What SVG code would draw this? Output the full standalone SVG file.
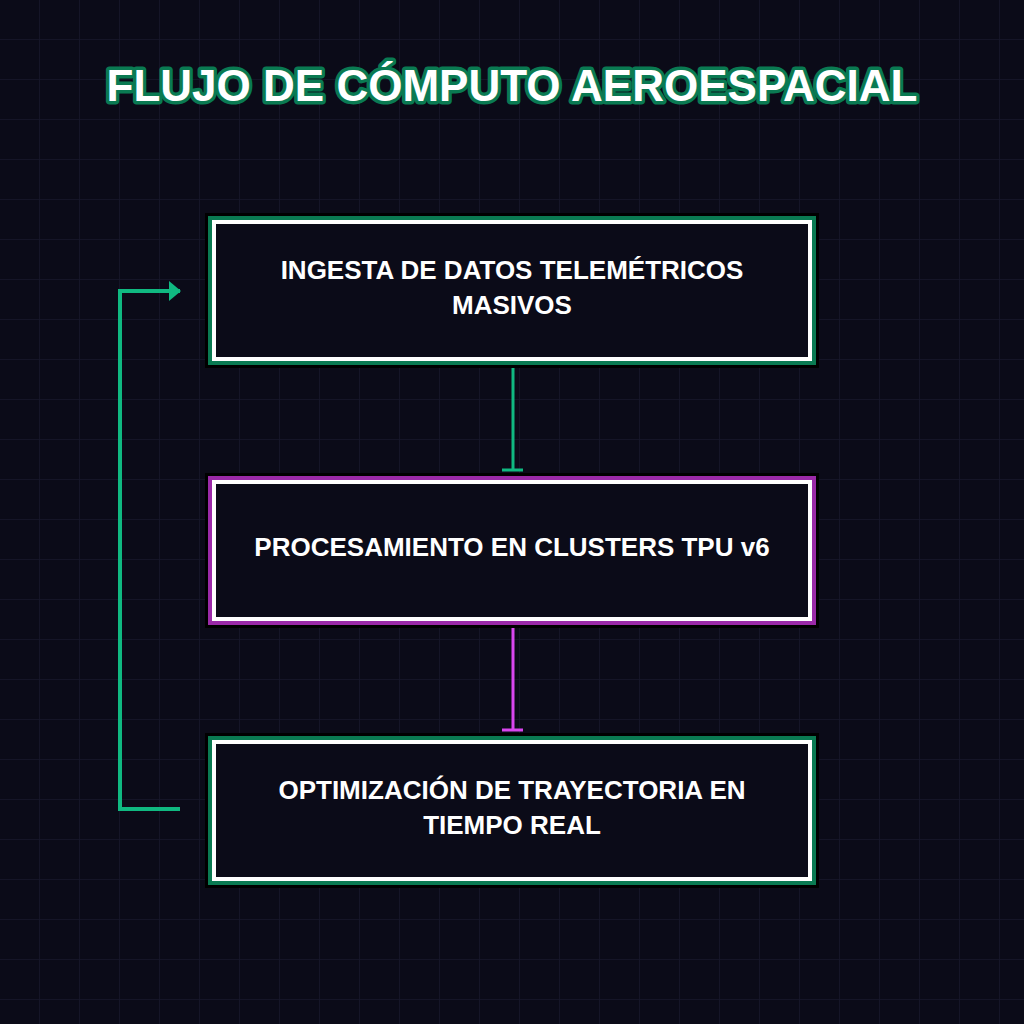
<svg xmlns="http://www.w3.org/2000/svg" width="1024" height="1024" viewBox="0 0 1024 1024">
<defs>
<pattern id="grid" width="40" height="40" patternUnits="userSpaceOnUse"><path d="M40 0V40M0 40H40" fill="none" stroke="#17172b" stroke-width="1.5"/></pattern>
<marker id="tri" viewBox="0 0 12 20" refX="11" refY="10" markerWidth="12" markerHeight="20" markerUnits="userSpaceOnUse" orient="auto"><path d="M0 0L12 10L0 20Z" fill="#10b981"/></marker>
</defs>
<style>
.t{font-family:"Liberation Sans",Arial,sans-serif;font-weight:bold;fill:#fff;text-anchor:middle}
.title{font-size:44px;stroke:#0a7a52;stroke-width:7;stroke-linejoin:round;paint-order:stroke}
.lbl{font-size:26px}
.blk{fill:#0b0b18;stroke:#000;stroke-width:4}
.w{fill:none;stroke:#fff;stroke-width:4}
</style>
<rect width="1024" height="1024" fill="#0b0b18"/>
<rect width="1024" height="1024" fill="url(#grid)"/>
<text class="t title" x="512" y="101">FLUJO DE CÓMPUTO AEROESPACIAL</text>
<g id="connectors" fill="none" stroke-width="3">
<path d="M513 360V470M502 470H523" stroke="#10b981"/>
<path d="M513 620V730M502 730H523" stroke="#d946ef"/>
<path d="M180 809H120V291H180" stroke="#10b981" stroke-width="4" marker-end="url(#tri)"/>
</g>
<g id="n1">
<rect class="blk" x="207" y="215" width="610" height="151"/>
<rect x="210" y="218" width="604" height="145" fill="none" stroke="#0a7a52" stroke-width="4"/>
<rect class="w" x="214" y="222" width="596" height="137"/>
<text class="t lbl" x="512" y="279">INGESTA DE DATOS TELEMÉTRICOS</text>
<text class="t lbl" x="512" y="314">MASIVOS</text>
</g>
<g id="n2">
<rect class="blk" x="207" y="475" width="610" height="151"/>
<rect x="210" y="478" width="604" height="145" fill="none" stroke="#9b2aa8" stroke-width="4"/>
<rect class="w" x="214" y="482" width="596" height="137"/>
<text class="t lbl" x="512" y="556">PROCESAMIENTO EN CLUSTERS TPU v6</text>
</g>
<g id="n3">
<rect class="blk" x="207" y="735" width="610" height="151"/>
<rect x="210" y="738" width="604" height="145" fill="none" stroke="#0a7a52" stroke-width="4"/>
<rect class="w" x="214" y="742" width="596" height="137"/>
<text class="t lbl" x="512" y="799">OPTIMIZACIÓN DE TRAYECTORIA EN</text>
<text class="t lbl" x="512" y="834">TIEMPO REAL</text>
</g>
</svg>
